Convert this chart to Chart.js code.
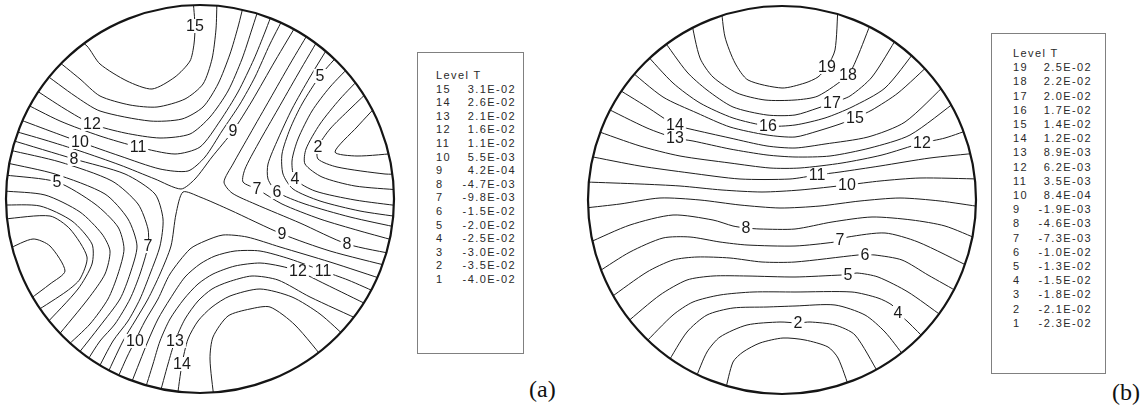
<!DOCTYPE html>
<html lang="en">
<head>
<meta charset="utf-8">
<title>Contour maps of T</title>
<script src="https://cdn.jsdelivr.net/npm/chart.js@4.4.1/dist/chart.umd.min.js"></script>
<style>
  html, body { margin:0; padding:0; background:#fff; }
  body { position:relative; width:1143px; height:415px; overflow:hidden;
         font-family:"Liberation Sans", Arial, Helvetica, sans-serif; }
  canvas.disk { position:absolute; }
  .legend { position:absolute; box-sizing:border-box; border:1px solid #808080;
            color:#2a2a2a; font-size:11px; letter-spacing:1.4px; }
  .legend .row { display:flex; justify-content:space-between; white-space:pre; }
  .tag { position:absolute; font-family:"Liberation Serif","Times New Roman",serif;
         font-size:24px; color:#111; line-height:1; }
</style>
</head>
<body>
<canvas id="diskA" class="disk" width="394" height="394" style="left:3px;top:2px"></canvas>
<canvas id="diskB" class="disk" width="394" height="394" style="left:585px;top:3px"></canvas>
<div id="legendA" class="legend" style="left:417px;top:52px;width:107px;height:302px;padding:16px 7px 0 18px;"></div>
<div id="legendB" class="legend" style="left:991px;top:33px;width:115px;height:341px;padding:12px 13px 0 21px;"></div>
<div class="tag" style="left:529px;top:377px">(a)</div>
<div class="tag" style="left:1112px;top:380px">(b)</div>
<script>
// ---- Legend tables: contour level number and temperature value T ----
const levelsA = [15, 14, 13, 12, 11, 10, 9, 8, 7, 6, 5, 4, 3, 2, 1];
const valuesA = [3.1e-2, 2.6e-2, 2.1e-2, 1.6e-2, 1.1e-2, 5.5e-3, 4.2e-4, -4.7e-3,
                 -9.8e-3, -1.5e-2, -2.0e-2, -2.5e-2, -3.0e-2, -3.5e-2, -4.0e-2];
const levelsB = [19, 18, 17, 16, 15, 14, 13, 12, 11, 10, 9, 8, 7, 6, 5, 4, 3, 2, 1];
const valuesB = [2.5e-2, 2.2e-2, 2.0e-2, 1.7e-2, 1.4e-2, 1.2e-2, 8.9e-3, 6.2e-3, 3.5e-3,
                 8.4e-4, -1.9e-3, -4.6e-3, -7.3e-3, -1.0e-2, -1.3e-2, -1.5e-2, -1.8e-2,
                 -2.1e-2, -2.3e-2];

// ---- Map (a): contour lines, [x, y] in disk units (centre 200,200, radius 194, y down) ----
// high-T lobe, upper left
const a15nw = [[72,36],[87,47],[100,65],[127,82],[152,90],[175,78],[190,62],[194,45],[195,27],[193,0]];
const a14nw = [[53,58],[80,80],[100,97],[130,106],[157,108],[185,100],[203,85],[212,60],[216,30],[217,0]];
const a13nw = [[42,73],[75,97],[100,112],[150,122],[182,120],[203,108],[218,85],[230,55],[238,28],[245,0]];
const a12nw = [[31,88],[65,110],[92,125],[125,134],[160,139],[190,135],[210,118],[228,92],[242,60],[252,30],[261,2]];
const a11nw = [[20,102],[60,122],[100,137],[138,148],[175,155],[200,148],[220,122],[238,93],[254,60],[265,33],[276,4]];
const a10nw = [[10,117],[50,132],[80,143],[120,157],[160,170],[188,172],[205,158],[222,132],[240,105],[255,78],[270,45],[288,10]];
// saddle level
const a9nw = [[7,130],[45,141],[80,152],[120,166],[155,180],[181,190],[195,180],[212,158],[233,132],[252,102],[275,62],[300,20]];
const a9se = [[104,382],[123,342],[135,322],[148,300],[160,275],[171,247],[176,215],[183,193],[200,198],[230,211],[282,235],[330,252],[392,268]];
// low-T lobe, right
const a8e = [[312,28],[290,65],[270,100],[250,135],[233,165],[224,183],[232,194],[255,205],[300,224],[347,245],[398,256]];
const a7e = [[322,34],[298,75],[278,110],[258,145],[245,170],[243,183],[257,190],[282,205],[320,220],[360,232],[400,243]];
const a6e = [[332,42],[310,78],[292,110],[278,140],[268,165],[268,180],[277,193],[305,205],[350,218],[400,229]];
const a5e = [[342,52],[320,77],[302,105],[290,130],[282,155],[283,175],[293,190],[320,202],[360,212],[400,218]];
const a4e = [[353,64],[330,88],[312,112],[298,140],[292,162],[295,180],[315,192],[355,201],[400,207]];
const a3e = [[363,76],[340,100],[320,125],[306,150],[305,165],[322,178],[355,187],[400,191]];
const a2e = [[373,88],[350,110],[330,130],[318,148],[318,160],[337,168],[385,175],[400,175]];
const a1e = [[383,100],[357,128],[335,153],[357,157],[400,154]];
// low-T lobe, lower left
const a8sw = [[11,141],[74,160],[125,175],[155,195],[163,220],[160,247],[150,275],[140,300],[128,322],[113,342],[97,372]];
const a7sw = [[9,151],[60,163],[112,182],[138,205],[148,230],[148,247],[140,275],[130,300],[115,325],[100,342],[87,362]];
const a6sw = [[7,164],[55,175],[105,195],[128,220],[137,247],[130,275],[120,300],[100,327],[78,355]];
const a5sw = [[5,176],[57,183],[95,205],[118,228],[124,250],[118,275],[108,300],[90,325],[66,348]];
const a4sw = [[4,192],[45,196],[80,213],[102,235],[110,252],[105,275],[88,300],[57,338]];
const a3sw = [[3,206],[40,207],[72,222],[92,245],[92,265],[78,290],[45,326]];
const a2sw = [[4,220],[50,217],[70,230],[87,258],[80,280],[67,292],[35,313]];
const a1sw = [[8,250],[33,240],[50,247],[65,272],[50,285],[30,300]];
// high-T lobe, lower right
const a10se = [[115,385],[127,358],[135,342],[145,322],[158,300],[170,275],[190,250],[205,242],[223,236],[247,238],[280,248],[330,263],[388,282]];
const a11se = [[129,390],[140,362],[148,342],[158,320],[170,300],[185,278],[200,265],[215,257],[235,252],[260,252],[290,260],[323,272],[348,281],[380,295]];
const a12se = [[144,394],[153,365],[160,342],[170,320],[184,300],[198,285],[213,275],[235,267],[260,264],[280,267],[298,272],[325,285],[370,307]];
const a13se = [[159,398],[168,365],[175,342],[185,320],[198,302],[212,290],[228,283],[252,277],[278,281],[310,298],[362,322]];
const a14se = [[177,400],[182,365],[188,340],[198,322],[212,308],[230,297],[260,290],[292,298],[320,315],[348,340]];
const a15se = [[214,400],[210,360],[213,338],[228,317],[250,310],[270,308],[295,326],[328,365]];

// level numbers written on map (a): [level, x, y]
const tagsA = [[15,195,27],[14,182,365],[13,175,342],[12,92,125],[12,298,272],[11,138,148],
               [11,323,272],[10,80,143],[10,135,342],[9,233,132],[9,282,235],[8,74,160],
               [8,347,245],[7,257,190],[7,148,247],[6,277,193],[5,57,183],[5,320,77],
               [4,295,180],[2,318,148]];

// ---- Map (b): contour lines, same disk units ----
const b19 = [[139,6],[143,37],[153,63],[166,80],[200,88],[223,83],[236,77],[245,67],[253,50],[256,6]];
const b18 = [[109,20],[118,58],[131,77],[155,93],[183,100],[213,100],[236,96],[266,75],[275,58],[290,20]];
const b17 = [[80,38],[105,72],[125,90],[151,107],[185,115],[213,115],[236,108],[250,103],[268,96],[290,77],[316,36]];
const b16 = [[62,52],[91,83],[118,103],[151,118],[186,126],[213,125],[243,118],[270,107],[303,88],[334,50]];
const b15 = [[45,68],[81,97],[115,113],[148,127],[185,135],[213,137],[236,131],[258,124],[273,118],[290,110],[316,93],[350,62]];
const b14 = [[31,86],[65,107],[93,125],[108,129],[148,138],[185,146],[213,148],[243,144],[286,137],[323,122],[366,82]];
const b13 = [[20,106],[65,128],[93,138],[111,141],[148,149],[185,155],[213,157],[248,156],[288,148],[328,135],[376,100]];
const b12 = [[12,130],[58,146],[98,156],[148,163],[188,168],[218,168],[260,163],[300,155],[340,143],[363,138],[392,128]];
const b11 = [[6,156],[58,166],[108,173],[158,179],[208,179],[235,175],[258,172],[298,166],[348,158],[396,153]];
const b10 = [[4,182],[58,184],[98,186],[140,190],[180,192],[218,190],[265,185],[298,181],[338,178],[398,179]];
const b9  = [[3,208],[38,204],[78,198],[118,200],[158,205],[198,208],[238,206],[278,201],[318,198],[358,201],[400,207]];
const b8  = [[6,243],[48,225],[91,215],[131,220],[151,226],[164,228],[178,229],[213,229],[250,222],[290,217],[330,220],[363,226],[398,240]];
const b7  = [[16,272],[48,252],[81,238],[108,237],[138,242],[165,245],[213,246],[253,242],[258,240],[266,237],[303,233],[336,242],[390,268]];
const b6  = [[28,298],[65,272],[91,260],[115,257],[148,258],[180,262],[213,262],[276,255],[283,255],[293,255],[320,260],[346,275],[378,293]];
const b5  = [[44,323],[78,295],[105,280],[131,276],[165,276],[213,277],[260,275],[266,275],[275,273],[296,277],[326,292],[360,316]];
const b4  = [[62,344],[91,315],[111,302],[138,295],[171,292],[213,292],[270,292],[296,298],[310,305],[316,313],[326,322],[345,341]];
const b3  = [[85,364],[105,332],[125,315],[151,308],[185,307],[213,306],[253,305],[283,315],[303,332],[322,356]];
const b2  = [[113,380],[125,352],[138,337],[165,325],[198,322],[216,323],[228,322],[253,325],[273,335],[297,374]];
const b1  = [[143,392],[151,362],[161,352],[178,343],[201,338],[223,340],[246,347],[256,358],[268,390]];

// level numbers written on map (b): [level, x, y]
const tagsB = [[19,245,67],[18,266,75],[17,250,103],[16,186,126],[15,273,118],[14,93,125],
               [13,93,138],[12,340,143],[11,235,175],[10,265,185],[8,164,228],[7,258,240],
               [6,283,255],[5,266,275],[4,316,313],[2,216,323]];

// ---- drawing ----
const CENTER = 200, RADIUS = 194;

const linesA = [a15nw, a14nw, a13nw, a12nw, a11nw, a10nw, a9nw, a9se,
                a8e, a7e, a6e, a5e, a4e, a3e, a2e, a1e,
                a8sw, a7sw, a6sw, a5sw, a4sw, a3sw, a2sw, a1sw,
                a10se, a11se, a12se, a13se, a14se, a15se];
const linesB = [b19, b18, b17, b16, b15, b14, b13, b12, b11, b10,
                b9, b8, b7, b6, b5, b4, b3, b2, b1];

function fmtT(v) {
  const [m, e] = v.toExponential(1).split('e');
  const n = parseInt(e, 10);
  return m + 'E' + (n < 0 ? '-' : '+') + String(Math.abs(n)).padStart(2, '0');
}

function fillLegend(id, levels, values, rowH) {
  const box = document.getElementById(id);
  const head = document.createElement('div');
  head.textContent = 'Level T';
  head.style.lineHeight = rowH + 'px';
  box.appendChild(head);
  levels.forEach((lv, i) => {
    const row = document.createElement('div');
    row.className = 'row';
    row.style.lineHeight = rowH + 'px';
    const a = document.createElement('span'); a.textContent = String(lv);
    const b = document.createElement('span'); b.textContent = fmtT(values[i]);
    row.appendChild(a); row.appendChild(b);
    box.appendChild(row);
  });
}

// clips the contour lines to the disk, then writes the level numbers and the rim
const diskPlugin = {
  id: 'disk',
  beforeDatasetsDraw(chart) {
    const { ctx, scales: { x, y } } = chart;
    const cx = x.getPixelForValue(CENTER), cy = y.getPixelForValue(CENTER);
    const r = x.getPixelForValue(CENTER + RADIUS) - cx;
    ctx.save();
    ctx.beginPath();
    ctx.arc(cx, cy, r, 0, Math.PI * 2);
    ctx.clip();
  },
  afterDatasetsDraw(chart, args, opts) {
    const { ctx, scales: { x, y } } = chart;
    ctx.restore();
    const cx = x.getPixelForValue(CENTER), cy = y.getPixelForValue(CENTER);
    const r = x.getPixelForValue(CENTER + RADIUS) - cx;
    ctx.save();
    ctx.font = '16px "Liberation Sans", Arial, sans-serif';
    ctx.textAlign = 'center';
    ctx.textBaseline = 'middle';
    (opts.tags || []).forEach(([lv, lx, ly]) => {
      const px = x.getPixelForValue(lx), py = y.getPixelForValue(ly);
      const t = String(lv);
      const w = ctx.measureText(t).width;
      ctx.fillStyle = '#ffffff';
      ctx.fillRect(px - w / 2 - 2, py - 7, w + 4, 14);
      ctx.fillStyle = '#1a1a1a';
      ctx.fillText(t, px, py + 1);
    });
    ctx.beginPath();
    ctx.arc(cx, cy, r, 0, Math.PI * 2);
    ctx.lineWidth = 2.2;
    ctx.strokeStyle = '#151515';
    ctx.stroke();
    ctx.restore();
  }
};

function drawDisk(id, lines, tags) {
  new Chart(document.getElementById(id), {
    type: 'scatter',
    data: {
      datasets: lines.map(pts => ({
        data: pts.map(([px, py]) => ({ x: px, y: py })),
        showLine: true,
        pointRadius: 0,
        borderColor: '#1e1e1e',
        borderWidth: 1,
        tension: 0.25,
        fill: false
      }))
    },
    options: {
      responsive: false,
      animation: false,
      events: [],
      layout: { padding: 3 },
      scales: {
        x: { type: 'linear', min: CENTER - RADIUS, max: CENTER + RADIUS, display: false },
        y: { type: 'linear', min: CENTER - RADIUS, max: CENTER + RADIUS, reverse: true, display: false }
      },
      plugins: { legend: { display: false }, tooltip: { enabled: false }, disk: { tags } }
    },
    plugins: [diskPlugin]
  });
}

fillLegend('legendA', levelsA, valuesA, 13.6);
fillLegend('legendB', levelsB, valuesB, 14.2);
drawDisk('diskA', linesA, tagsA);
drawDisk('diskB', linesB, tagsB);
</script>
</body>
</html>
